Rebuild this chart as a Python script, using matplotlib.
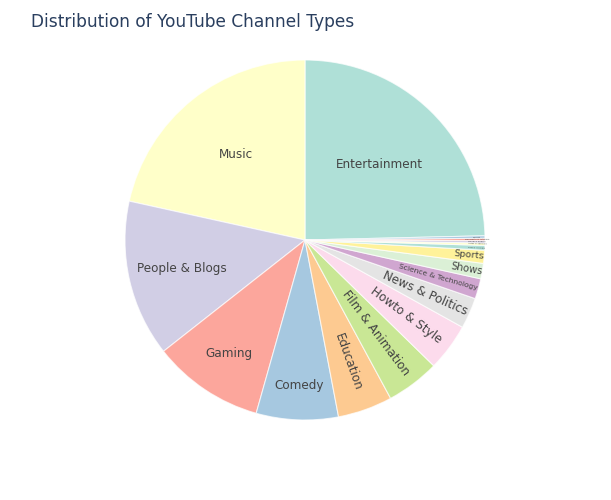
import numpy as np
import matplotlib as mpl
mpl.use('Agg')
import matplotlib.pyplot as plt

# channel type counts, sorted the way the chart shows them
categories = ['Entertainment', 'Music', 'People & Blogs', 'Gaming', 'Comedy',
              'Education', 'Film & Animation', 'Howto & Style', 'News & Politics',
              'Science & Technology', 'Shows', 'Sports', 'Pets & Animals',
              'Autos & Vehicles', 'Travel & Events', 'Nonprofits & Activism', 'Movies']
counts = [231, 202, 132, 94, 69, 46, 45, 40, 26, 17, 13, 11, 4, 2, 2, 2, 2]

# Set3 palette, cycled
set3 = ['#8dd3c7', '#ffffb3', '#bebada', '#fb8072', '#80b1d3', '#fdb462',
        '#b3de69', '#fccde5', '#d9d9d9', '#bc80bd', '#ccebc5', '#ffed6f']

# label styling: (radius fraction, font size px, radial?)
label_style = {
    'Entertainment': (0.59, 12, False),
    'Music': (0.61, 12, False),
    'People & Blogs': (0.70, 12, False),
    'Gaming': (0.76, 12, False),
    'Comedy': (0.81, 12, False),
    'Education': (0.72, 12, True),
    'Film & Animation': (0.65, 12, True),
    'Howto & Style': (0.70, 12, True),
    'News & Politics': (0.73, 12, True),
    'Science & Technology': (0.77, 7.5, True),
    'Shows': (0.91, 10, True),
    'Sports': (0.915, 9.5, True),
}

px = 1 / 100 * 72  # px -> pt at dpi 100
font = 'DejaVu Sans'

fig = plt.figure(figsize=(6.11, 5.0), dpi=100)
cx, cy, r = 305, 240, 180
ax = fig.add_axes([(cx - r) / 611, (500 - cy - r) / 500, 2 * r / 611, 2 * r / 500])

colors = [set3[i % len(set3)] for i in range(len(counts))]
total = float(sum(counts))
start = 90 - 360 * counts[0] / total

wedges, _ = ax.pie(counts, colors=colors, startangle=start, counterclock=True,
                   radius=1.0,
                   wedgeprops=dict(edgecolor='white', linewidth=0.8, alpha=0.7))
ax.set_xlim(-1, 1)
ax.set_ylim(-1, 1)
ax.set_aspect('equal')
ax.axis('off')

for w, name in zip(wedges, categories):
    mid = (w.theta1 + w.theta2) / 2
    rad, size, radial = label_style.get(name, (0.955, 2.2, True))
    x = rad * np.cos(np.radians(mid))
    y = rad * np.sin(np.radians(mid))
    rot = 0
    if radial:
        rot = mid
        while rot > 90:
            rot -= 180
        while rot < -90:
            rot += 180
    ax.text(x, y, name, ha='center', va='center', rotation=rot,
            rotation_mode='anchor', fontsize=size * px, color='#444444',
            family=font)

fig.text(31 / 611, 1 - 22 / 500, 'Distribution of YouTube Channel Types',
         ha='left', va='center', fontsize=17 * px, color='#2a3f5f',
         family=font)

fig.savefig('out.png', dpi=100)
